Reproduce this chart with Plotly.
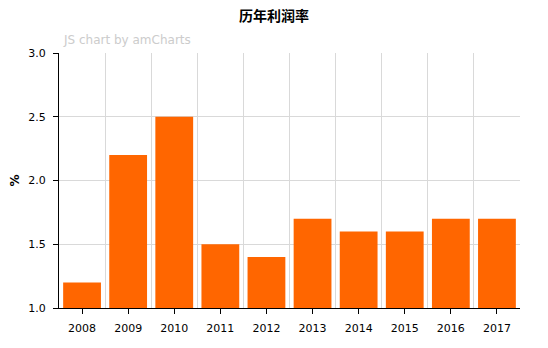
import plotly.graph_objects as go

years = ["2008", "2009", "2010", "2011", "2012", "2013", "2014", "2015", "2016", "2017"]
rates = [1.2, 2.2, 2.5, 1.5, 1.4, 1.7, 1.6, 1.6, 1.7, 1.7]
y_ticks = [1.0, 1.5, 2.0, 2.5, 3.0]

xs = list(range(len(years)))
font = "DejaVu Sans, Verdana, sans-serif"

fig = go.Figure(go.Bar(x=xs, y=rates, marker=dict(color="#FF6600", line=dict(width=0)),
                       width=0.82))

fig.update_layout(
    width=548, height=348,
    margin=dict(l=59, r=28, t=53, b=40),
    paper_bgcolor="white", plot_bgcolor="white",
    font=dict(family=font, size=11, color="#000"),
    title=dict(text="<b>历年利润率</b>", x=0.5, xanchor="center", y=0.955, yanchor="middle",
               font=dict(family="Noto Sans CJK SC", size=14, color="#000")),
    showlegend=False,
    annotations=[dict(text="JS chart by amCharts", xref="paper", yref="paper", x=0.005, y=1.015,
                      xanchor="left", yanchor="bottom", showarrow=False,
                      font=dict(family=font, size=12, color="#cccccc"))],
)
fig.update_xaxes(
    range=[-0.5, len(years) - 0.5], tickmode="array", tickvals=xs, ticktext=years,
    showgrid=False, ticks="outside", ticklen=5, tickcolor="#000", ticklabelstandoff=5,
    showline=True, linecolor="#000", linewidth=1, zeroline=False, automargin=False,
    minor=dict(tickmode="linear", tick0=0.5, dtick=1, showgrid=True, gridcolor="#d9d9d9", ticks=""),
    fixedrange=True,
)
fig.update_yaxes(
    range=[1.0, 3.0], tickmode="array", tickvals=y_ticks, ticktext=[f"{v:.1f}" for v in y_ticks],
    showgrid=True, gridcolor="#d9d9d9", ticks="outside", ticklen=5, tickcolor="#000", ticklabelstandoff=5,
    showline=True, linecolor="#000", linewidth=1, zeroline=False, automargin=False,
    title=dict(text="<b>%</b>", standoff=6, font=dict(size=12)),
)
fig.write_html("out.html")
